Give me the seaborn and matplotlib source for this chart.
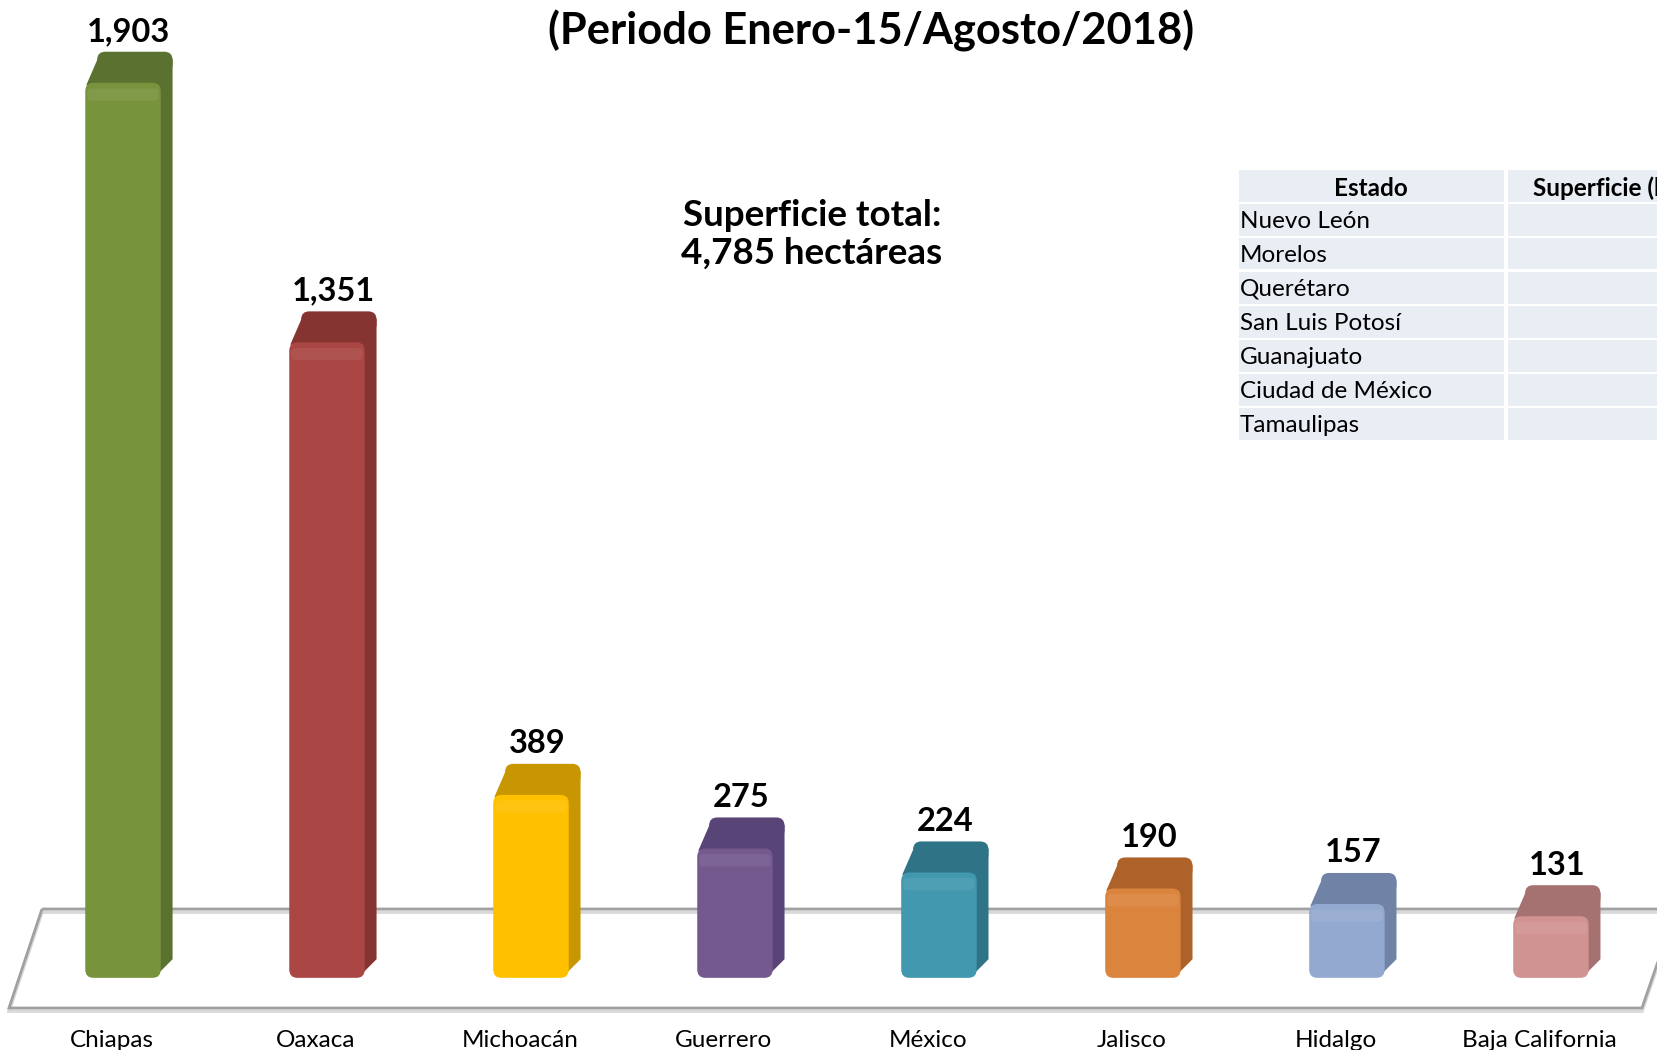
import numpy as np
import matplotlib
matplotlib.use("Agg")
import matplotlib.pyplot as plt
import seaborn as sns
from matplotlib.patches import Polygon, FancyBboxPatch, Rectangle

# data
estados = ['Chiapas', 'Oaxaca', 'Michoacán', 'Guerrero', 'México', 'Jalisco', 'Hidalgo', 'Baja California']
superficie = [1903, 1351, 389, 275, 224, 190, 157, 131]
colores = ['#77933C', '#AA4643', '#FFC000', '#74598F', '#4198AF', '#DB843D', '#93A9CF', '#D09392']
colores_osc = ['#5B7130', '#853432', '#C89600', '#594477', '#2E7386', '#AD6229', '#7083A6', '#A57271']
tabla_estados = ['Nuevo León', 'Morelos', 'Querétaro', 'San Luis Potosí', 'Guanajuato', 'Ciudad de México', 'Tamaulipas']
titulo = '(Periodo Enero-15/Agosto/2018)'
total_txt = 'Superficie total:\n4,785 hectáreas'

sns.set_theme(style='white')
plt.rcParams['font.family'] = ['Lato', 'DejaVu Sans']
plt.rcParams['text.color'] = 'black'

W, H = 1658, 1050
fig = plt.figure(figsize=(W / 100, H / 100), dpi=100)
ax = fig.add_axes([0, 0, 1, 1])

bar_w = 0.37
sns.barplot(x=estados, y=superficie, hue=estados, palette=colores, width=bar_w,
            legend=False, ax=ax, zorder=3)

ax.set_xlim(-0.603, 7.525)
ax.set_ylim(-153.4, 2079)
ax.axis('off')

# fake 3D: side and top faces drawn around each seaborn bar
dx, dy = 0.058, 66
for i, p in enumerate(ax.patches):
    x0, w, h = p.get_x(), p.get_width(), p.get_height()
    x1 = x0 + w
    p.set_visible(False)
    side = Polygon([(x1 - 0.01, 10), (x1 + dx, dy * 0.6), (x1 + dx, h + dy - 15), (x1 - 0.01, h)],
                   closed=True, fc=colores_osc[i], ec='none', zorder=2)
    cap = FancyBboxPatch((x0 + dx, h + dy - 45), w, 45, boxstyle='round,pad=0,rounding_size=0.04',
                         mutation_aspect=450, fc=colores_osc[i], ec='none', zorder=2)
    link = Polygon([(x0 + 0.005, h - 5), (x0 + dx, h + dy - 18), (x1 + dx, h + dy - 18), (x1, h - 5)],
                   closed=True, fc=colores_osc[i], ec='none', zorder=2)
    front = FancyBboxPatch((x0, 0), w, h, boxstyle='round,pad=0,rounding_size=0.04',
                           mutation_aspect=450, fc=colores[i], ec='none', zorder=4)
    for a in (side, cap, link, front):
        ax.add_patch(a)
    # soft highlight near the top of the front face
    ax.add_patch(FancyBboxPatch((x0 + 0.01, h - 38), w - 0.02, 26, boxstyle='round,pad=0,rounding_size=0.02',
                                mutation_aspect=450, fc='white', alpha=0.07, ec='none', zorder=5))
    ax.text(x0 + w / 2 + dx / 2, h + dy + 12, f'{superficie[i]:,}', ha='center', va='bottom',
            fontsize=23.5, fontweight='bold', zorder=6)
    ax.text(i - 0.055, -133, estados[i], ha='center', va='center', fontsize=17.5)

# floor (parallelogram behind the bars)
def fp(x, y):
    return (x / W, 1 - y / H)

floor = [fp(42, 909), fp(1676, 909), fp(1642, 1008), fp(9, 1008)]
ax.add_patch(Polygon([(a, b - 0.003) for a, b in floor], closed=True, fill=False, ec='#D9D9D9', lw=2.5,
                     transform=ax.transAxes, zorder=0))
ax.add_patch(Polygon(floor, closed=True, fill=False, ec='#A0A0A0', lw=2,
                     transform=ax.transAxes, zorder=1))

# title (its first line is cut off in the reference)
fig.text(871 / W, 1 - 31 / H, titulo, ha='center', va='center', fontsize=31.2, fontweight='bold')

fig.text(812 / W, 1 - 234 / H, total_txt, ha='center', va='center', fontsize=26.5,
         fontweight='bold', linespacing=1.17)

# table on the right
fill = '#E9EDF4'
row_h = 34
top_y = 170
cols = [(1239, 1504), (1508, 1700)]
for r in range(len(tabla_estados) + 1):
    y0 = top_y + r * row_h
    for c0, c1 in cols:
        fig.add_artist(Rectangle(fp(c0, y0 + row_h - 2.5), (c1 - c0) / W, (row_h - 2.5) / H,
                                 transform=fig.transFigure, fc=fill, ec='none'))
    if r == 0:
        fig.text(1371 / W, 1 - (y0 + 18) / H, 'Estado', ha='center', va='center',
                 fontsize=17.5, fontweight='bold')
        fig.text(1533 / W, 1 - (y0 + 18) / H, 'Superficie (ha)', ha='left', va='center',
                 fontsize=17.5, fontweight='bold')
    else:
        fig.text(1240 / W, 1 - (y0 + 17) / H, tabla_estados[r - 1], ha='left', va='center',
                 fontsize=17.5)

fig.savefig('out.png', dpi=100)
